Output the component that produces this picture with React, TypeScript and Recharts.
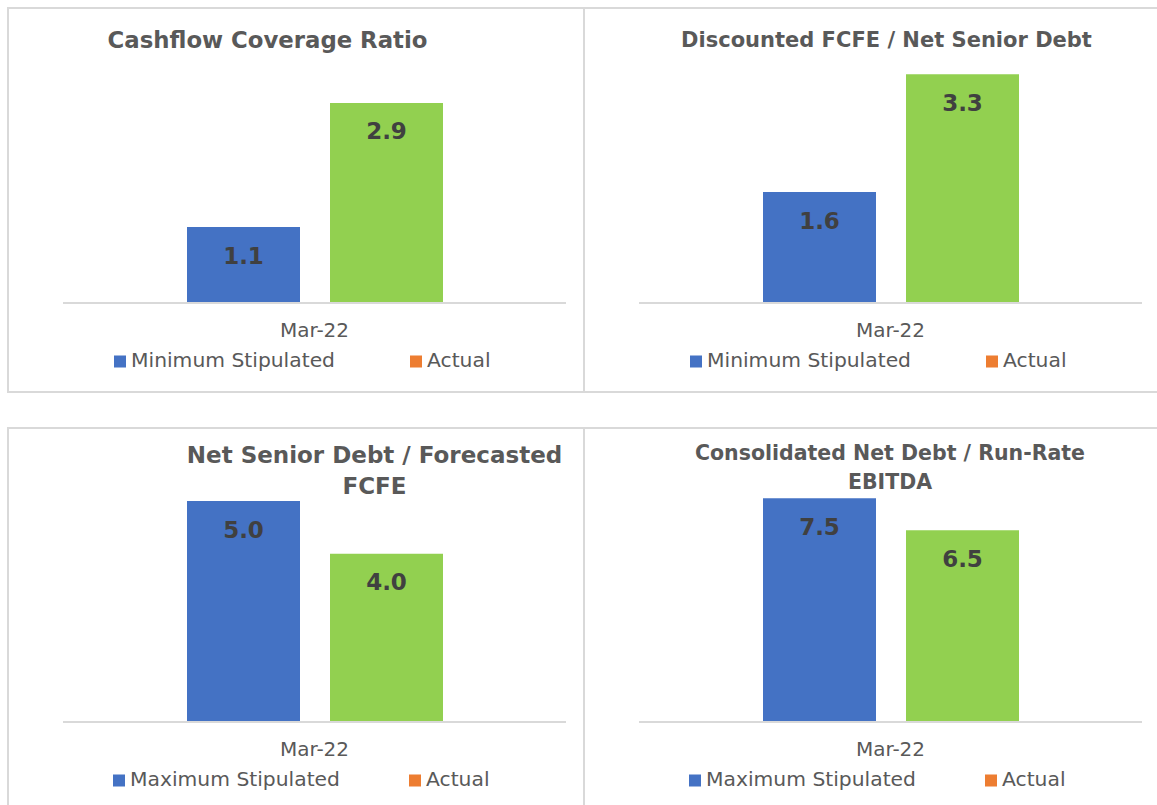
import { BarChart, Bar, XAxis, YAxis, Cell, Legend, LabelList } from 'recharts';

const FONT = "'DejaVu Sans', sans-serif";

const CATEGORIES = ['Mar-22'];

const MIN_NAME = 'Minimum Stipulated';
const MAX_NAME = 'Maximum Stipulated';
const ACTUAL_NAME = 'Actual';

// Cashflow Coverage Ratio
const CASHFLOW_STIPULATED = [1.1];
const CASHFLOW_ACTUAL = [2.9];
// Discounted FCFE / Net Senior Debt
const FCFE_STIPULATED = [1.6];
const FCFE_ACTUAL = [3.3];
// Net Senior Debt / Forecasted FCFE
const SENIOR_STIPULATED = [5.0];
const SENIOR_ACTUAL = [4.0];
// Consolidated Net Debt / Run-Rate EBITDA
const EBITDA_STIPULATED = [7.5];
const EBITDA_ACTUAL = [6.5];

const BLUE = '#4472C4';
const ORANGE = '#ED7D31';
const GREEN = '#92D050';
const TEXT = '#595959';
const LABEL = '#404040';
const BORDER = '#d9d9d9';

const PANEL_W = 578;
const PANEL_H = 386;

interface ValueLabelProps {
  x?: number | string;
  y?: number | string;
  width?: number | string;
  value?: number | string;
}

const renderValueLabel = (props: ValueLabelProps) => {
  const { x = 0, y = 0, width = 0, value } = props;
  return (
    <text
      x={Number(x) + Number(width) / 2}
      y={Number(y) + 36.5}
      textAnchor="middle"
      fill={LABEL}
      fontSize={23}
      fontWeight={700}
      fontFamily={FONT}
    >
      {Number(value).toFixed(1)}
    </text>
  );
};

interface LegendEntry {
  value?: string;
  color?: string;
  dataKey?: string;
}

const SERIES_ORDER = ['stipulated', 'actual'];

const makeLegend = (offsetX: number) => ({ payload }: { payload?: LegendEntry[] }) => {
  const items = [...(payload ?? [])].sort(
    (a, b) => SERIES_ORDER.indexOf(String(a.dataKey)) - SERIES_ORDER.indexOf(String(b.dataKey)),
  );
  return (
    <svg width={PANEL_W} height={22} style={{ display: 'block', overflow: 'visible' }}>
      {items.map((entry, i) => (
        <g key={`legend-${i}`} transform={`translate(${offsetX + i * 296},0)`}>
          <rect x={0} y={0.5} width={12} height={12} fill={entry.color} />
          <text x={17} y={12} fontSize={20.3} fill={TEXT} fontFamily={FONT}>
            {entry.value}
          </text>
        </g>
      ))}
    </svg>
  );
};

interface PanelProps {
  left: number;
  top: number;
  stipulatedName: string;
  stipulated: number[];
  actual: number[];
  domain: [number, number];
  plotTop: number;
  plotBottom: number;
  legendX: number;
  borderLeft?: boolean;
}

const ChartPanel = ({
  left,
  top,
  stipulatedName,
  stipulated,
  actual,
  domain,
  plotTop,
  plotBottom,
  legendX,
  borderLeft = true,
}: PanelProps) => {
  const rows = CATEGORIES.map((period, i) => ({
    period,
    stipulated: stipulated[i],
    actual: actual[i],
  }));
  const axisHeight = 30;
  const margin = {
    top: plotTop - top,
    bottom: top + PANEL_H - plotBottom - axisHeight,
    left: 63 - 7,
    right: 7 + PANEL_W - 566,
  };
  const legendTop = plotBottom + 52 - top;

  return (
    <>
      <div
        style={{
          position: 'absolute',
          left,
          top,
          width: PANEL_W,
          height: PANEL_H,
          boxSizing: 'border-box',
          border: `2px solid ${BORDER}`,
          borderLeft: borderLeft ? `2px solid ${BORDER}` : 'none',
        }}
      />
      <div style={{ position: 'absolute', left, top, width: PANEL_W, height: PANEL_H }}>
        <BarChart width={PANEL_W} height={PANEL_H} data={rows} margin={margin} barGap={30}>
          <XAxis
            dataKey="period"
            height={axisHeight}
            axisLine={{ stroke: BORDER, strokeWidth: 2 }}
            tickLine={false}
            tickSize={0}
            tickMargin={20}
            tick={{ fill: TEXT, fontSize: 20, fontFamily: FONT }}
          />
          <YAxis hide type="number" domain={domain} allowDataOverflow />
          <Legend
            layout="horizontal"
            verticalAlign="middle"
            align="center"
            wrapperStyle={{ top: legendTop, left: 0, width: PANEL_W, height: 22 }}
            content={makeLegend(legendX)}
          />
          <Bar
            dataKey="stipulated"
            name={stipulatedName}
            fill={BLUE}
            barSize={113}
            isAnimationActive={false}
          >
            <LabelList dataKey="stipulated" content={renderValueLabel} />
          </Bar>
          <Bar dataKey="actual" name={ACTUAL_NAME} fill={ORANGE} barSize={113} isAnimationActive={false}>
            {rows.map((_row, index) => (
              <Cell key={`cell-${index}`} fill={GREEN} />
            ))}
            <LabelList dataKey="actual" content={renderValueLabel} />
          </Bar>
        </BarChart>
      </div>
    </>
  );
};

const titleStyle = {
  fill: TEXT,
  fontWeight: 700,
  fontFamily: FONT,
};

export default function App() {
  return (
    <div
      style={{
        position: 'absolute',
        left: 0,
        top: 0,
        width: 1157,
        height: 805,
        overflow: 'hidden',
        background: '#fff',
      }}
    >
      <ChartPanel
        left={7}
        top={7}
        stipulatedName={MIN_NAME}
        stipulated={CASHFLOW_STIPULATED}
        actual={CASHFLOW_ACTUAL}
        domain={[0, 3.5]}
        plotTop={61.5}
        plotBottom={303}
        legendX={107}
      />
      <ChartPanel
        left={583}
        top={7}
        stipulatedName={MIN_NAME}
        stipulated={FCFE_STIPULATED}
        actual={FCFE_ACTUAL}
        domain={[0, 3.5]}
        plotTop={60.4}
        plotBottom={303}
        legendX={107}
        borderLeft={false}
      />
      <ChartPanel
        left={7}
        top={427}
        stipulatedName={MAX_NAME}
        stipulated={SENIOR_STIPULATED}
        actual={SENIOR_ACTUAL}
        domain={[0.8, 5.5]}
        plotTop={474.8}
        plotBottom={722}
        legendX={106}
      />
      <ChartPanel
        left={583}
        top={427}
        stipulatedName={MAX_NAME}
        stipulated={EBITDA_STIPULATED}
        actual={EBITDA_ACTUAL}
        domain={[0.5, 8]}
        plotTop={482.3}
        plotBottom={722}
        legendX={106}
        borderLeft={false}
      />
      <svg
        width={1157}
        height={805}
        style={{ position: 'absolute', left: 0, top: 0, pointerEvents: 'none' }}
      >
        <text x={267.5} y={48} textAnchor="middle" fontSize={22.8} style={titleStyle}>
          Cashflow Coverage Ratio
        </text>
        <text x={886.5} y={47} textAnchor="middle" fontSize={21} style={titleStyle}>
          Discounted FCFE / Net Senior Debt
        </text>
        <text x={374.5} y={463} textAnchor="middle" fontSize={23} style={titleStyle}>
          Net Senior Debt / Forecasted
        </text>
        <text x={374.5} y={494} textAnchor="middle" fontSize={23} style={titleStyle}>
          FCFE
        </text>
        <text x={890} y={460} textAnchor="middle" fontSize={20.5} style={titleStyle}>
          Consolidated Net Debt / Run-Rate
        </text>
        <text x={890} y={489} textAnchor="middle" fontSize={20.5} style={titleStyle}>
          EBITDA
        </text>
      </svg>
    </div>
  );
}
